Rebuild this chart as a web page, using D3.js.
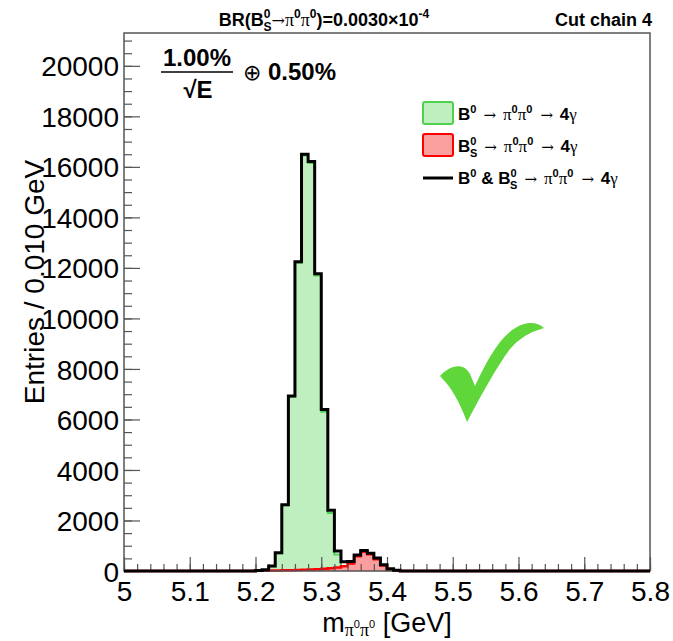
<!DOCTYPE html>
<html>
<head>
<meta charset="utf-8">
<script src="https://cdn.jsdelivr.net/npm/d3@7"></script>
<style>
  body { margin: 0; background: #fff; }
  text { font-family: "Liberation Sans", Arial, Helvetica, sans-serif; fill: #000; }
</style>
</head>
<body>
<div id="chart"></div>
<script>
// histogram bins, 0.010 GeV wide, first listed bin starts at 5.19 GeV
const firstBin = 5.19
const binWidth = 0.01
const b0Counts = [0, 10, 40, 180, 700, 2600, 6900, 12200, 16450, 16150, 11700, 6300, 2300, 650, 180, 80, 50, 50, 40, 40, 30, 20, 10, 0]
const bsCounts = [0, 5, 10, 15, 20, 25, 30, 40, 50, 60, 70, 90, 110, 140, 190, 300, 580, 760, 660, 470, 220, 70, 20, 0]

const massTicks = [5, 5.1, 5.2, 5.3, 5.4, 5.5, 5.6, 5.7, 5.8]
const massTickLabels = ["5", "5.1", "5.2", "5.3", "5.4", "5.5", "5.6", "5.7", "5.8"]
const countTicks = [0, 2000, 4000, 6000, 8000, 10000, 12000, 14000, 16000, 18000, 20000]

function drawHisto() {
  const W = 673, H = 641
  const margin = { top: 33, right: 23, bottom: 70, left: 124 }

  const svg = d3.select("#chart").append("svg")
    .attr("width", W).attr("height", H)

  // escalas
  const x = d3.scaleLinear().domain([5, 5.8]).range([margin.left, W - margin.right])
  const y = d3.scaleLinear().domain([0, 21300]).range([H - margin.bottom, margin.top])

  // pontos do histograma (degraus), com a linha de base cobrindo todo o eixo
  function steps(counts) {
    const pts = [{ m: 5, v: 0 }]
    counts.forEach((v, i) => pts.push({ m: firstBin + i * binWidth, v: v }))
    pts.push({ m: firstBin + counts.length * binWidth, v: 0 })
    pts.push({ m: 5.8, v: 0 })
    return pts
  }
  const total = b0Counts.map((v, i) => v + bsCounts[i])

  const area = d3.area().curve(d3.curveStepAfter)
    .x(d => x(d.m)).y0(y(0)).y1(d => y(d.v))
  const line = d3.line().curve(d3.curveStepAfter)
    .x(d => x(d.m)).y(d => y(d.v))

  // B0 (verde)
  svg.append("path").attr("d", area(steps(b0Counts)))
    .attr("fill", "#bfeebf").attr("stroke", "none")
  svg.append("path").attr("d", line(steps(b0Counts)))
    .attr("fill", "none").attr("stroke", "#4fd14f").attr("stroke-width", 2)

  // Bs (vermelho)
  svg.append("path").attr("d", area(steps(bsCounts)))
    .attr("fill", "#fa9e9e").attr("stroke", "none")
  svg.append("path").attr("d", line(steps(bsCounts)))
    .attr("fill", "none").attr("stroke", "#ff0000").attr("stroke-width", 2.5)

  // eixos (ticks para dentro)
  const axisColor = "#555"
  const yMinor = svg.append("g").attr("transform", "translate(" + margin.left + ",0)")
    .call(d3.axisLeft(y).tickValues(d3.range(0, 21001, 500)).tickSizeInner(-8).tickSizeOuter(0).tickFormat(""))
  const yMajor = svg.append("g").attr("transform", "translate(" + margin.left + ",0)")
    .call(d3.axisLeft(y).tickValues(countTicks).tickSizeInner(-16).tickSizeOuter(0).tickPadding(5).tickFormat(d3.format("d")))
  const xMinor = svg.append("g").attr("transform", "translate(0," + y(0) + ")")
    .call(d3.axisBottom(x).tickValues(d3.range(0, 41).map(i => 5 + i * 0.02)).tickSizeInner(-7).tickSizeOuter(0).tickFormat(""))
  const xMajor = svg.append("g").attr("transform", "translate(0," + y(0) + ")")
    .call(d3.axisBottom(x).tickValues(massTicks).tickSizeInner(-14).tickSizeOuter(0).tickPadding(10)
      .tickFormat((d, i) => massTickLabels[i]))

  ;[yMinor, yMajor, xMinor, xMajor].forEach(g => {
    g.select(".domain").remove()
    g.selectAll("line").attr("stroke", axisColor).attr("stroke-width", 1.2)
  })
  yMajor.selectAll("text").style("font-size", "28px").attr("dy", "0.36em")
  xMajor.selectAll("text").style("font-size", "28px")

  // moldura
  svg.append("rect")
    .attr("x", margin.left).attr("y", margin.top)
    .attr("width", W - margin.left - margin.right)
    .attr("height", H - margin.top - margin.bottom)
    .attr("fill", "none").attr("stroke", axisColor).attr("stroke-width", 1.5)

  // soma (preto)
  svg.append("path").attr("d", line(steps(total)))
    .attr("fill", "none").attr("stroke", "#000").attr("stroke-width", 3)
    .attr("stroke-linejoin", "miter")

  // texto com índices
  function rich(sel, px, py, parts, anchor) {
    const t = sel.append("text").attr("x", px).attr("y", py)
      .attr("text-anchor", anchor || "start")
    let shift = 0
    parts.forEach(p => {
      const want = p.dy || 0
      const ts = t.append("tspan").text(p.t).attr("dy", want - shift)
      shift = want
      if (p.dx) ts.attr("dx", p.dx)
      ts.style("font-size", p.size + "px")
      if (p.bold) ts.style("font-weight", "bold")
      if (p.serif) ts.style("font-family", "'Liberation Serif', 'DejaVu Serif', serif")
      if (p.arrow) ts.style("font-family", "'DejaVu Serif', serif")
    })
    return t
  }

  // títulos superiores
  rich(svg, 324, 26, [
    { t: "BR(B", size: 18, bold: true },
    { t: "0", size: 12, bold: true, dy: -8 },
    { t: "S", size: 12, bold: true, dy: 5, dx: -7 },
    { t: "\u2192", size: 16, arrow: true },
    { t: "\u03c0", size: 18, serif: true },
    { t: "0", size: 12, bold: true, dy: -8 },
    { t: "\u03c0", size: 18, serif: true },
    { t: "0", size: 12, bold: true, dy: -8 },
    { t: ")=0.0030\u00d710", size: 18, bold: true },
    { t: "-4", size: 12, bold: true, dy: -8 }
  ], "middle")
  svg.append("text").attr("x", 652).attr("y", 26).attr("text-anchor", "end")
    .style("font-size", "18px").style("font-weight", "bold").text("Cut chain 4")

  // títulos dos eixos
  svg.append("text")
    .attr("transform", "translate(44,282) rotate(-90)")
    .attr("text-anchor", "middle").style("font-size", "28px")
    .text("Entries / 0.010 GeV")
  rich(svg, 387, 632, [
    { t: "m", size: 27 },
    { t: "\u03c0", size: 18, serif: true, dy: 4 },
    { t: "0", size: 11, dy: -4 },
    { t: "\u03c0", size: 18, serif: true, dy: 4 },
    { t: "0", size: 11, dy: -4 },
    { t: " [GeV]", size: 27 }
  ], "middle")

  // resolução
  svg.append("text").attr("x", 197).attr("y", 66).attr("text-anchor", "middle")
    .style("font-size", "24px").style("font-weight", "bold").text("1.00%")
  svg.append("line").attr("x1", 161).attr("x2", 233).attr("y1", 72).attr("y2", 72)
    .attr("stroke", "#000").attr("stroke-width", 1.5)
  svg.append("text").attr("x", 198).attr("y", 98).attr("text-anchor", "middle")
    .style("font-size", "24px").style("font-weight", "bold").text("\u221aE")
  svg.append("text").attr("x", 243).attr("y", 80)
    .style("font-size", "22px").style("font-family", "'DejaVu Sans', sans-serif").text("\u2295")
  svg.append("text").attr("x", 268).attr("y", 80)
    .style("font-size", "24px").style("font-weight", "bold").text("0.50%")

  // legenda
  const leg = svg.append("g")
  leg.append("rect").attr("x", 423).attr("y", 102).attr("width", 30).attr("height", 22).attr("rx", 2)
    .attr("fill", "#bfeebf").attr("stroke", "#4fd14f").attr("stroke-width", 2)
  leg.append("rect").attr("x", 423).attr("y", 134).attr("width", 30).attr("height", 22).attr("rx", 2)
    .attr("fill", "#fa9e9e").attr("stroke", "#ff0000").attr("stroke-width", 2)
  leg.append("line").attr("x1", 423).attr("x2", 453).attr("y1", 178).attr("y2", 178)
    .attr("stroke", "#000").attr("stroke-width", 3)

  const decay = [
    { t: "\u2192", size: 15, arrow: true, dx: 7 },
    { t: "\u03c0", size: 17, serif: true, dx: 7 },
    { t: "0", size: 11, bold: true, dy: -7 },
    { t: "\u03c0", size: 17, serif: true },
    { t: "0", size: 11, bold: true, dy: -7 },
    { t: "\u2192", size: 15, arrow: true, dx: 8 },
    { t: "\u00a04", size: 17, bold: true, dx: 2 },
    { t: "\u03b3", size: 17, serif: true }
  ]
  rich(leg, 458, 120, [
    { t: "B", size: 17, bold: true },
    { t: "0", size: 11, bold: true, dy: -7 }
  ].concat(decay))
  rich(leg, 458, 152, [
    { t: "B", size: 17, bold: true },
    { t: "0", size: 11, bold: true, dy: -7 },
    { t: "S", size: 11, bold: true, dy: 5, dx: -6.5 }
  ].concat(decay))
  rich(leg, 458, 184, [
    { t: "B", size: 17, bold: true },
    { t: "0", size: 11, bold: true, dy: -7 },
    { t: " & B", size: 17, bold: true },
    { t: "0", size: 11, bold: true, dy: -7 },
    { t: "S", size: 11, bold: true, dy: 5, dx: -6.5 }
  ].concat(decay))

  // marca de verificação
  svg.append("path")
    .attr("d", "M440,376 C449,366 463,361 470,374 L475,386 C488,358 503,330 524,324 Q536,321 544,328 " +
      "Q522,334 510,349 C496,368 483,392 467,422 C460,403 452,388 440,376 Z")
    .attr("fill", "#5fd63a")
}

drawHisto()
</script>
</body>
</html>
